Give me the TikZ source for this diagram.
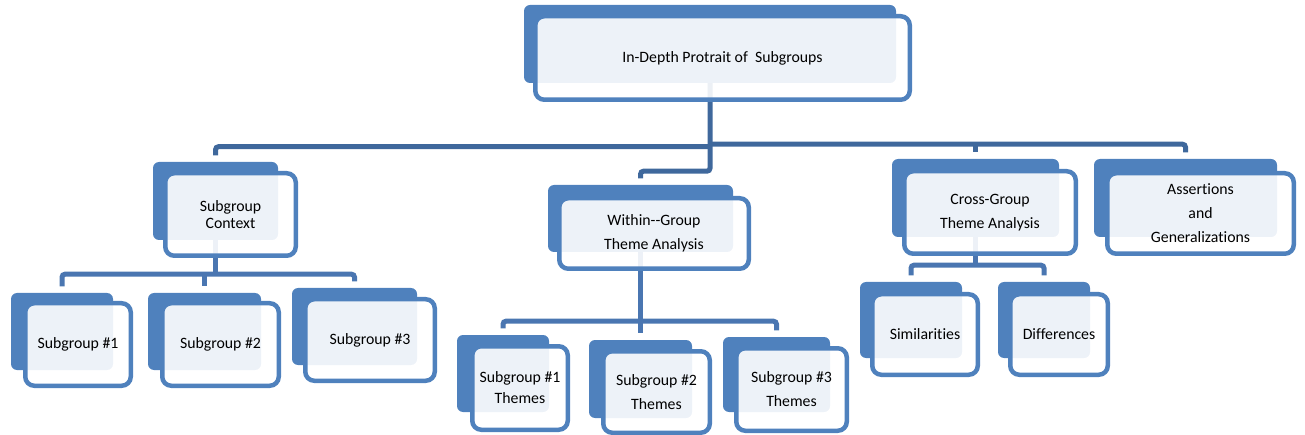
\documentclass[tikz,border=0pt]{standalone}
\usepackage{fontspec}
\setmainfont{Carlito}[Ligatures=NoCommon]
\definecolor{boxblue}{RGB}{79,129,189}
\definecolor{linkdark}{RGB}{63,104,156}
\definecolor{linkblue}{RGB}{74,118,177}

\begin{document}
\begin{tikzpicture}[x=1pt, y=-1pt,
  back/.style={fill=boxblue, rounded corners=6pt, inner sep=0pt},
  front/.style={draw=boxblue, line width=4.5pt, fill=white, fill opacity=0.9,
    text opacity=1, rounded corners=9pt, inner sep=0pt, align=center,
    font=\fontsize{15.8}{24}\selectfont},
  link/.style={line width=5pt, rounded corners=3pt},
  top link/.style={link, draw=linkdark},
  sub link/.style={link, draw=linkblue}]
  \useasboundingbox (0,0) rectangle (1305,435);

  % back plates
  \node[back, minimum width=372pt, minimum height=78pt] (P) at (710,44) {};
  \node[back, minimum width=125pt, minimum height=78pt] (C) at (215.5,201) {};
  \node[back, minimum width=185pt, minimum height=67pt] (W) at (640.5,218.5) {};
  \node[back, minimum width=167pt, minimum height=78pt] (X) at (975.5,198) {};
  \node[back, minimum width=183pt, minimum height=78pt] (G) at (1185.5,198) {};
  \node[back, minimum width=102pt, minimum height=77pt] (S1) at (62,331.5) {};
  \node[back, minimum width=113pt, minimum height=77pt] (S2) at (204.5,331.5) {};
  \node[back, minimum width=125pt, minimum height=77pt] (S3) at (354.5,326.5) {};
  \node[back, minimum width=92pt, minimum height=77pt] (T1) at (503,373.5) {};
  \node[back, minimum width=103pt, minimum height=78pt] (T2) at (640.5,379) {};
  \node[back, minimum width=107pt, minimum height=75pt] (T3) at (776.5,374.5) {};
  \node[back, minimum width=102pt, minimum height=76pt] (Sim) at (911,320) {};
  \node[back, minimum width=92pt, minimum height=76pt] (Dif) at (1044,320) {};

  % connectors
  \coordinate (barl) at ([yshift=-63.5pt]P.south);
  \coordinate (barr) at ([yshift=-61pt]P.south);
  \coordinate (wj) at ([yshift=-88pt]P.south);
  \draw[top link, shorten >=6.5pt] (P.south) -- (wj) -| (W.north);
  \draw[top link, shorten <=6.5pt] (C.north) |- (barl);
  \draw[top link, shorten >=6.5pt] (barr) -| (G.north);
  \draw[top link, shorten >=6.5pt] (barr -| X.north) -- (X.north);

  \coordinate (cbar) at ([yshift=-34pt]C.south);
  \draw[sub link] (C.south) -- (cbar);
  \draw[sub link, shorten <=6.5pt, shorten >=6.5pt] (S1.north) |- (cbar) -| (S3.north);
  \draw[sub link, shorten >=6.5pt] (cbar -| S2.north) -- (S2.north);

  \coordinate (wbar) at ([yshift=-69pt]W.south);
  \draw[sub link] (W.south) -- (wbar);
  \draw[sub link, shorten <=6.5pt, shorten >=6.5pt] (T1.north) |- (wbar) -| (T3.north);
  \draw[sub link, shorten >=6.5pt] (wbar -| T2.north) -- (T2.north);

  \coordinate (xbar) at ([yshift=-28pt]X.south);
  \draw[sub link] (X.south) -- (xbar);
  \draw[sub link, shorten <=6.5pt, shorten >=6.5pt] (Sim.north) |- (xbar) -| (Dif.north);

  % front cards
  \node[front, minimum width=374.5pt, minimum height=83.5pt] (P') at (722.5,58) {In-Depth Protrait of~~Subgroups};
  \node[front, minimum width=130.5pt, minimum height=82.5pt,
    font=\fontsize{15.8}{17}\selectfont] (C') at (230.5,214.5) {Subgroup\\Context};
  \node[front, minimum width=189.5pt, minimum height=70.5pt] (W') at (654,233.5) {Within-\kern0pt-Group\\Theme Analysis};
  \node[front, minimum width=171.5pt, minimum height=82.5pt] (X') at (990,212.5) {Cross-Group\\Theme Analysis};
  \node[front, minimum width=186.5pt, minimum height=80.5pt] (G') at (1200.5,213.5) {Assertions\\and\\Generalizations};
  \node[front, minimum width=105.5pt, minimum height=82.5pt] (S1') at (78,344.5) {Subgroup \#1};
  \node[front, minimum width=116.5pt, minimum height=82.5pt] (S2') at (220.5,344.5) {Subgroup \#2};
  \node[front, minimum width=129.5pt, minimum height=81.5pt] (S3') at (370,340) {Subgroup \#3};
  \node[front, minimum width=95.5pt, minimum height=83.5pt,
    font=\fontsize{15.8}{21}\selectfont] (T1') at (520,388) {Subgroup \#1\\Themes};
  \node[front, minimum width=106.5pt, minimum height=81.5pt] (T2') at (656.5,392) {Subgroup \#2\\Themes};
  \node[front, minimum width=110.5pt, minimum height=82.5pt] (T3') at (791.5,389.5) {Subgroup \#3\\Themes};
  \node[front, minimum width=105.5pt, minimum height=80.5pt] (Sim') at (925,334.5) {Similarities};
  \node[front, minimum width=97.5pt, minimum height=80.5pt] (Dif') at (1059,334.5) {Differences};
\end{tikzpicture}
\end{document}
